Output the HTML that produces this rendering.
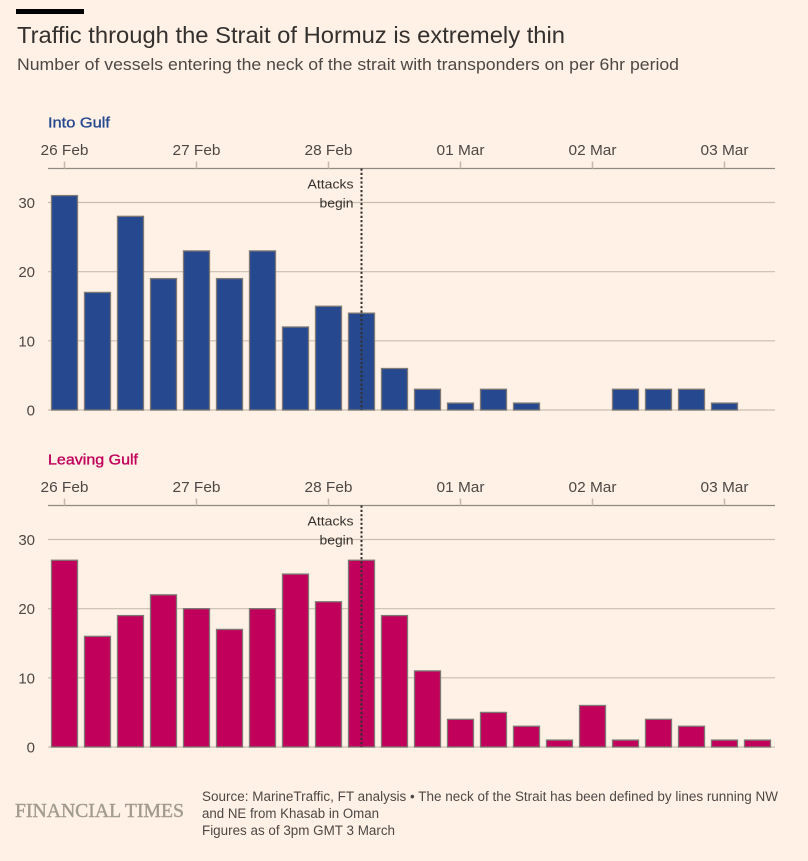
<!DOCTYPE html>
<html lang="en">
<head>
<meta charset="utf-8">
<title>Traffic through the Strait of Hormuz is extremely thin</title>
<style>
html,body{margin:0;padding:0;background:#fff1e5;}
svg{display:block;font-family:"Liberation Sans",sans-serif;}
</style>
</head>
<body>
<svg id="chart" xmlns="http://www.w3.org/2000/svg" width="808" height="861" viewBox="0 0 808 861">
  <rect x="0" y="0" width="808" height="861" fill="#fff1e5"/>
  <rect x="16" y="9" width="68" height="5" fill="#000"/>
  <text x="17" y="43" font-size="23" fill="#33302e" textLength="548" lengthAdjust="spacingAndGlyphs">Traffic through the Strait of Hormuz is extremely thin</text>
  <text x="17" y="70" font-size="17" fill="#4d4845" textLength="662" lengthAdjust="spacingAndGlyphs">Number of vessels entering the neck of the strait with transponders on per 6hr period</text>
  <g id="panels"></g>
  <text x="15" y="817" font-family="'Liberation Serif',serif" font-size="20" fill="#a39c90" stroke="#a39c90" stroke-width="0.45" textLength="169" lengthAdjust="spacingAndGlyphs">FINANCIAL TIMES</text>
  <text x="202" y="801" font-size="13.5" fill="#4d4845" textLength="576" lengthAdjust="spacingAndGlyphs">Source: MarineTraffic, FT analysis • The neck of the Strait has been defined by lines running NW</text>
  <text x="202" y="818" font-size="13.5" fill="#4d4845" textLength="177" lengthAdjust="spacingAndGlyphs">and NE from Khasab in Oman</text>
  <text x="202" y="835" font-size="13.5" fill="#4d4845" textLength="193" lengthAdjust="spacingAndGlyphs">Figures as of 3pm GMT 3 March</text>
</svg>
<script>
const intoGulf = [31,17,28,19,23,19,23,12,15,14,6,3,1,3,1,0,0,3,3,3,1,0];
const leavingGulf = [27,16,19,22,20,17,20,25,21,27,19,11,4,5,3,1,6,1,4,3,1,1];
const dateLabels = ['26 Feb','27 Feb','28 Feb','01 Mar','02 Mar','03 Mar'];
const dateTickIndexes = [0,4,8,12,16,20];
const valueTicks = [0,10,20,30];
const attackIndex = 9;

const NS = 'http://www.w3.org/2000/svg';
const root = document.getElementById('panels');
const left = 48, right = 775, band = 33, barW = 26;
const unitPx = 207.5 / 30;

function xScale(i) { return left + band * (i + 0.5); }

function make(parent, tag, attrs, text) {
  const el = document.createElementNS(NS, tag);
  for (const k in attrs) el.setAttribute(k, attrs[k]);
  if (text !== undefined) el.textContent = text;
  parent.appendChild(el);
  return el;
}

function drawPanel(key, title, color, titleWidth, values, axisY, zeroY) {
  const yScale = v => zeroY - v * unitPx;
  const g = make(root, 'g', {});
  
  

  const head = make(g, 'text', {x: 48, y: axisY - 41, 'font-size': 14.5, fill: color, stroke: color, 'stroke-width': 0.35, textLength: titleWidth, lengthAdjust: 'spacingAndGlyphs'}, title);
  
  

  valueTicks.forEach(v => {
    const line = make(g, 'line', {x1: left, x2: right, y1: yScale(v), y2: yScale(v), stroke: '#c9bfb1', 'stroke-width': 1.2});
    
    
    const label = make(g, 'text', {x: 35, y: yScale(v) + 5.5, 'text-anchor': 'end', 'font-size': 15, fill: '#4d4845'}, String(v));
    
    
  });

  const axis = make(g, 'line', {x1: left, x2: right, y1: axisY, y2: axisY, stroke: '#8f8982', 'stroke-width': 1.3});
  
  

  dateLabels.forEach((d, n) => {
    const x = xScale(dateTickIndexes[n]);
    const tick = make(g, 'line', {x1: x, x2: x, y1: axisY - 7, y2: axisY, stroke: '#c2b9ab', 'stroke-width': 1.5});
    
    
    const label = make(g, 'text', {x: x, y: axisY - 13.5, 'text-anchor': 'middle', 'font-size': 15, fill: '#4d4845', textLength: 48, lengthAdjust: 'spacingAndGlyphs'}, d);
    
    
  });

  values.forEach((v, i) => {
    const bar = make(g, 'rect', {x: xScale(i) - barW / 2, y: yScale(v), width: barW, height: zeroY - yScale(v), fill: color, stroke: v === 0 ? '#c4bcb0' : '#7d7874', 'stroke-width': v === 0 ? 1.6 : 1.3});
    
    
  });

  const ax = xScale(attackIndex);
  const marker = make(g, 'line', {x1: ax, x2: ax, y1: axisY, y2: zeroY, stroke: '#33302e', 'stroke-width': 2, 'stroke-dasharray': '2.2 2.1'});
  
  

  const a1 = make(g, 'text', {x: ax - 8, y: axisY + 20, 'text-anchor': 'end', 'font-size': 13, fill: '#33302e', textLength: 46, lengthAdjust: 'spacingAndGlyphs'}, 'Attacks');
  
  
  const a2 = make(g, 'text', {x: ax - 8, y: axisY + 39, 'text-anchor': 'end', 'font-size': 13, fill: '#33302e', textLength: 34, lengthAdjust: 'spacingAndGlyphs'}, 'begin');
  
  
}

drawPanel('into-gulf', 'Into Gulf', '#26488f', 62, intoGulf, 168.5, 410);
drawPanel('leaving-gulf', 'Leaving Gulf', '#c0005a', 90, leavingGulf, 505.5, 747);
</script>
</body>
</html>
